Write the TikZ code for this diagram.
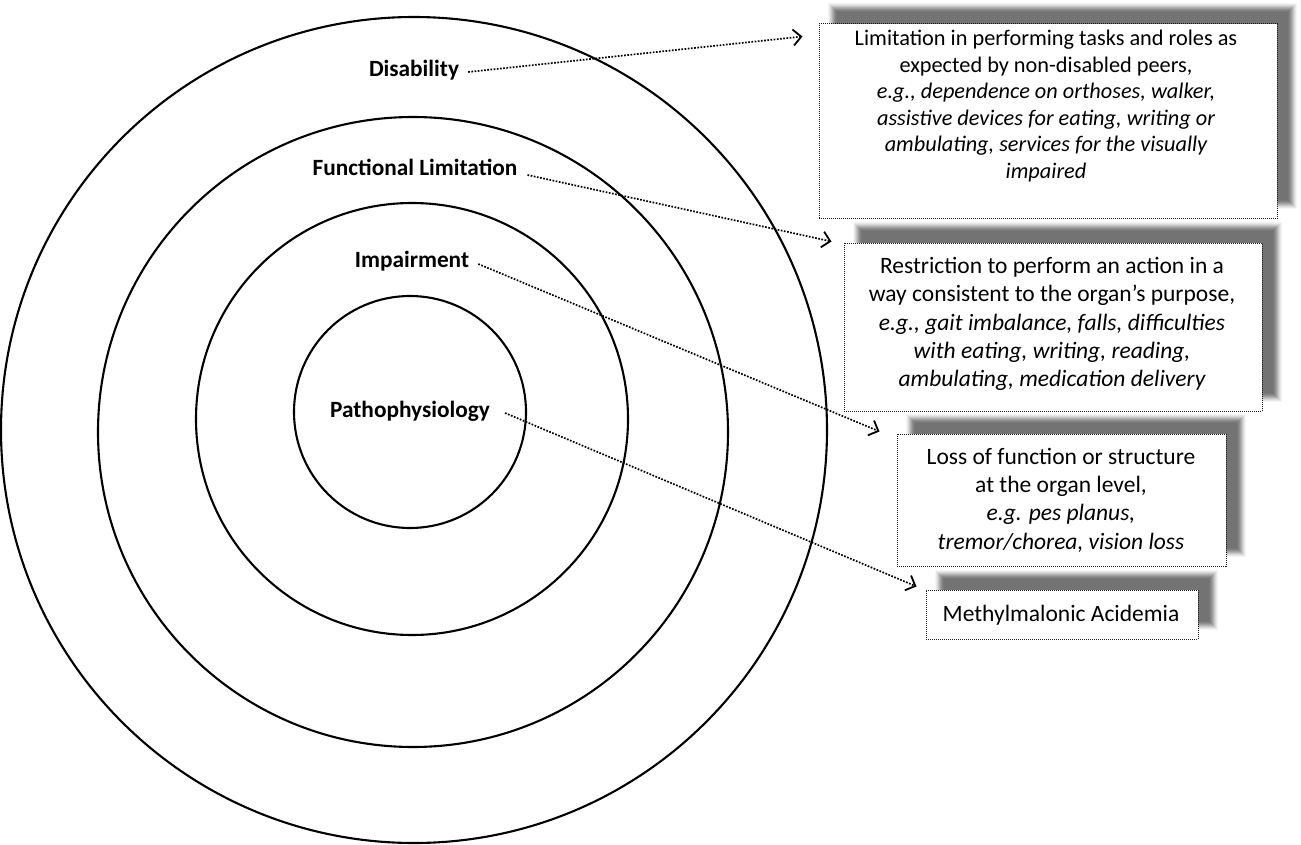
\documentclass[tikz,border=0pt]{standalone}
\usepackage{fontspec}
\setmainfont{Carlito}
\usetikzlibrary{arrows.meta,backgrounds,calc}
\newcommand{\softshade}[1]{%
  \begin{scope}[on background layer]
    \foreach \e/\g in {5/4,4/9,3/15,2/22,1/30,0/37,-1/44,-2/49,-3/53,-4/55}
      \fill[black!\g] ([shift={(14-\e,-15-\e)}]#1.north west) rectangle ([shift={(14+\e,-15+\e)}]#1.south east);
  \end{scope}}
\begin{document}
\begin{tikzpicture}[x=1pt,y=-1pt,
  ring/.style={circle,draw,line width=2.1pt,inner sep=0pt},
  lvl/.style={font=\fontsize{23.3}{27}\selectfont\bfseries,inner sep=0pt},
  infobox/.style={draw=black!90,line width=1pt,dash pattern=on 1pt off 1pt,fill=white,inner sep=0pt},
  boxtxt/.style={align=center,inner sep=0pt},
  bigtxt/.style={boxtxt,font=\fontsize{23.5}{28.3}\selectfont},
  link/.style={line width=1.7pt,dash pattern=on 1.7pt off 1.5pt,-{Straight Barb[length=8pt,width=16pt,line width=1.8pt]}}
]
\useasboundingbox (0,0) rectangle (1301,845);
\begin{scope}[on background layer]
  \fill[white] (0,0) rectangle (1301,845);
\end{scope}

% circles
\node[ring,minimum size=826pt] (c1) at (414,430) {};
\node[ring,minimum size=630pt] (c2) at (413,432) {};
\node[ring,minimum size=432pt] (c3) at (412,419) {};
\node[ring,minimum size=232pt] (c4) at (410,412) {};

% level labels
\node[lvl] (dis) at (414,70) {Disability};
\node[lvl] (fun) at (415,167) {Functional Limitation};
\node[lvl] (imp) at (412,261) {Impairment};
\node[lvl] (pat) at (410,411) {Pathophysiology};

% boxes
\node[infobox,minimum width=458pt,minimum height=195pt] (b1) at (1048,121.5) {};
\node[infobox,minimum width=418pt,minimum height=168pt] (b2) at (1053,327) {};
\node[infobox,minimum width=329pt,minimum height=132pt] (b3) at (1061.5,500) {};
\node[infobox,minimum width=272pt,minimum height=49pt] (b4) at (1062,614.5) {};
\softshade{b1}
\softshade{b2}
\softshade{b3}
\softshade{b4}

% box texts
\node[boxtxt,font=\fontsize{22.3}{26.5}\selectfont] (t1) at (1046,106) {Limitation in performing tasks and roles as\\expected by non-disabled peers,\\\itshape e.g., dependence on orthoses, walker,\\\itshape assistive devices for eating, writing or\\\itshape ambulating, services for the visually\\\itshape impaired};
\node[bigtxt] (t2) at (1052,324) {Restriction to perform an action in a\\way consistent to the organ’s purpose,\\\itshape e.g., gait imbalance, falls, difficulties\\\itshape with eating, writing, reading,\\\itshape ambulating, medication delivery};
\node[bigtxt] (t3) at (1061,500) {Loss of function or structure\\at the organ level,\\\itshape e.g. pes planus,\\\itshape tremor/chorea, vision loss};
\node[bigtxt] (t4) at (1061,615) {Methylmalonic Acidemia};

% connectors
\draw[link] ([shift={(9,2)}]dis.east) -- ([shift={(-16,13)}]b1.north west);
\draw[link] ([shift={(10,8)}]fun.east) -- ([shift={(-12,-1)}]b2.north west);
\draw[link] ([shift={(9,3)}]imp.east) -- ([shift={(-17,-2)}]b3.north west);
\draw[link] ([shift={(15,2)}]pat.east) -- ([shift={(-9,-3)}]b4.north west);
\end{tikzpicture}
\end{document}
